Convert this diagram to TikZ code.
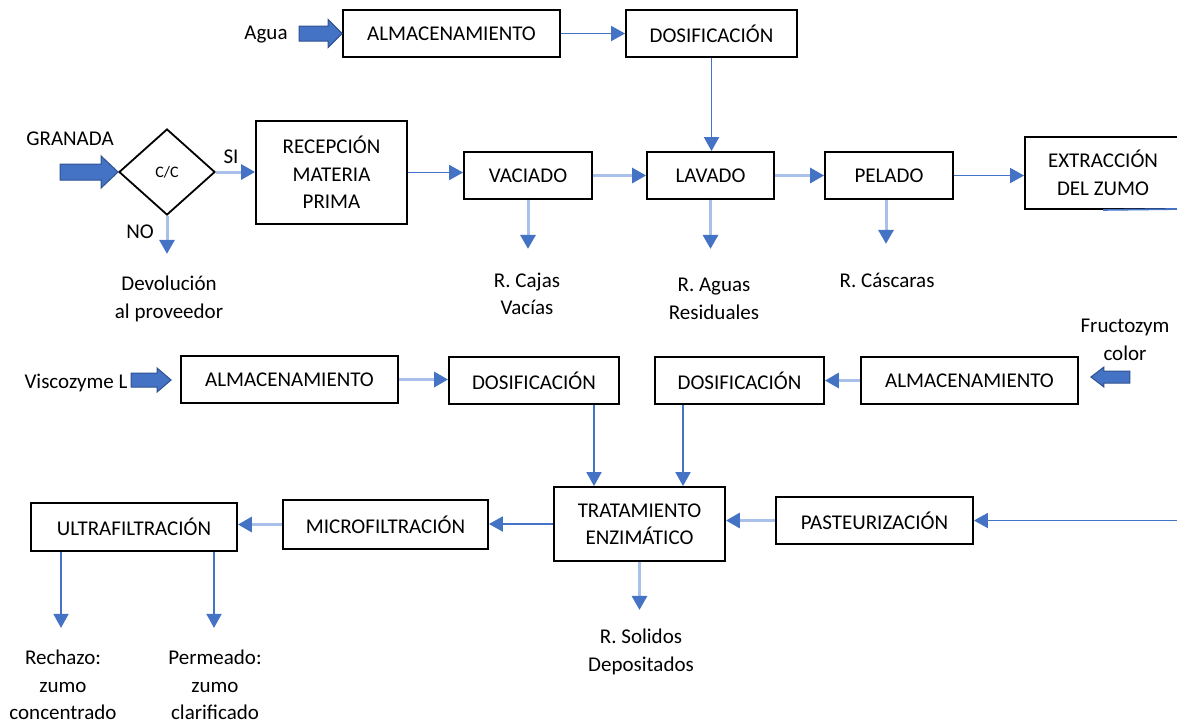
\documentclass[tikz,border=0pt]{standalone}
\usepackage{fontspec}
\setmainfont{Carlito}
\usetikzlibrary{arrows.meta,shapes.geometric,calc}
\definecolor{abl}{HTML}{4472C4}
\definecolor{abd}{HTML}{2F528F}
\definecolor{alt}{HTML}{A9C1EA}
\begin{document}
\begin{tikzpicture}[x=1pt,y=-1pt,
  txt/.style={font=\fontsize{21}{27.5}\selectfont, inner sep=0pt, align=center, text=black},
  box/.style={txt, draw=black, line width=1.8pt, rectangle},
  conn/.style={draw=abl, line width=1.8pt, -{Triangle[width=15pt,length=14pt,color=abl]}},
  lconn/.style={draw=alt, line width=3pt, -{Triangle[width=15pt,length=14pt,color=abl]}},
  barrowp/.style={draw=abd, fill=abl, line width=1pt, line join=miter}]
\useasboundingbox (0,0) rectangle (1177,724);
\clip (0,0) rectangle (1177,724);

% boxes
\node[box, minimum width=217pt, minimum height=47pt] (alm1) at (451.5,33.5) {ALMACENAMIENTO};
\node[box, minimum width=171pt, minimum height=47pt] (dos1) at (711.5,33.5) {DOSIFICACIÓN};
\node[draw=black, line width=1.8pt, diamond, minimum width=96pt, minimum height=86pt,
      inner sep=0pt, font=\fontsize{16}{19}\selectfont] (cc) at (167,172) {C/C};
\node[box, minimum width=151pt, minimum height=103pt] (recep) at (331.5,172.5) {RECEPCIÓN\\MATERIA\\PRIMA};
\node[box, minimum width=128pt, minimum height=47pt] (vac) at (528,175.5) {VACIADO};
\node[box, minimum width=127pt, minimum height=47pt] (lav) at (710.5,175.5) {LAVADO};
\node[box, minimum width=128pt, minimum height=47pt] (pel) at (889,175.5) {PELADO};
\node[box, minimum width=156pt, minimum height=72pt] (ext) at (1103,173) {EXTRACCIÓN\\DEL ZUMO};

\node[box, minimum width=217pt, minimum height=47pt] (alm2) at (289.5,379.5) {ALMACENAMIENTO};
\node[box, minimum width=170pt, minimum height=47pt] (dos2) at (534,380.5) {DOSIFICACIÓN};
\node[box, minimum width=169pt, minimum height=47pt] (dos3) at (739.5,380.5) {DOSIFICACIÓN};
\node[box, minimum width=217pt, minimum height=47pt] (alm3) at (969.5,380.5) {ALMACENAMIENTO};

\node[box, minimum width=206pt, minimum height=48pt] (ultra) at (134,527) {ULTRAFILTRACIÓN};
\node[box, minimum width=205pt, minimum height=49pt] (micro) at (385.5,524.5) {MICROFILTRACIÓN};
\node[box, minimum width=171pt, minimum height=74pt] (trat) at (639.5,524) {TRATAMIENTO\\ENZIMÁTICO};
\node[box, minimum width=197pt, minimum height=47pt] (past) at (874.5,520.5) {PASTEURIZACIÓN};

% labels
\node[txt] (agua) at (266,35) {Agua};
\node[txt] (gran) at (70,139) {GRANADA};
\node[txt] (si) at (231,157) {SI};
\node[txt] (no) at (140,232) {NO};
\node[txt] (dev) at (169,299) {Devolución\\al proveedor};
\node[txt] (rcaj) at (527,294) {R. Cajas\\Vacías};
\node[txt] (ragu) at (714,299) {R. Aguas\\Residuales};
\node[txt] (rcas) at (887,280) {R. Cáscaras};
\node[txt] (fruc) at (1125,340) {Fructozym\\color};
\node[txt] (visc) at (76,383) {Viscozyme L};
\node[txt] (rsol) at (641,652) {R. Solidos\\Depositados};
\node[txt] (rech) at (63,685) {Rechazo:\\zumo\\concentrado};
\node[txt] (perm) at (215,685) {Permeado:\\zumo\\clarificado};

% helper coordinates
\coordinate (atip) at (alm1.west);
\coordinate (gtip) at (cc.west);
\coordinate (vtip) at ($(alm2.west)+(-9,0.5)$);
\coordinate (ftip) at ($(alm3.east)+(12,-3.5)$);
\coordinate (extR) at (1177,209);
\coordinate (pin) at (1177,520.5);
\coordinate (d2s) at ($(dos2.south)+(60,0)$);
\coordinate (d3s) at ($(dos3.south)+(-56.5,0)$);
\coordinate (u1) at ($(ultra.south)+(-73,0)$);
\coordinate (u2) at ($(ultra.south)+(80,0)$);

% block input arrows
\path[barrowp] (atip) -- ++(-14,-14) -- ++(0,6.5) -- ++(-29,0) -- ++(0,15) -- ++(29,0) -- ++(0,6.5) -- cycle;
\path[barrowp] (gtip) -- ++(-17,-16) -- ++(0,8) -- ++(-41,0) -- ++(0,16) -- ++(41,0) -- ++(0,8) -- cycle;
\path[barrowp] (vtip) -- ++(-14,-12) -- ++(0,5) -- ++(-26,0) -- ++(0,14) -- ++(26,0) -- ++(0,5) -- cycle;
\path[barrowp] (ftip) -- ++(13,-10) -- ++(0,4) -- ++(26,0) -- ++(0,12) -- ++(-26,0) -- ++(0,4) -- cycle;

% connectors
\draw[conn] (alm1) -- (dos1);
\draw[conn] (dos1.south) -- (dos1.south |- lav.north);
\draw[lconn] (cc.east) -- (cc.east -| recep.west);
\draw[lconn] (cc.south) -- ++(0,38);
\draw[conn] (recep.east) -- (recep.east -| vac.west);
\draw[lconn] (vac) -- (lav);
\draw[lconn] (lav) -- (pel);
\draw[conn] (pel.east) -- (pel.east -| ext.west);
\draw[lconn] (vac.south) -- ++(0,49);
\draw[lconn] (lav.south) -- ++(0,49);
\draw[lconn] ([xshift=-3pt]pel.south) -- ++(0,44);
\draw[abl, line width=1.8pt] (ext.south) -- (extR);

\draw[lconn] (alm2.east) -- (alm2.east -| dos2.west);
\draw[lconn] (alm3.west) -- (alm3.west -| dos3.east);
\draw[conn] (d2s) -- (d2s |- trat.north);
\draw[conn] (d3s) -- (d3s |- trat.north);
\draw[conn] (pin) -- (past.east);
\draw[lconn] (past.west) -- (past.west -| trat.east);
\draw[conn] (trat.west) -- (trat.west -| micro.east);
\draw[lconn] (micro.west) -- (micro.west -| ultra.east);
\draw[lconn] (trat.south) -- ++(0,48);
\draw[conn] (u1) -- ++(0,76);
\draw[conn] (u2) -- ++(0,76);
\end{tikzpicture}
\end{document}
